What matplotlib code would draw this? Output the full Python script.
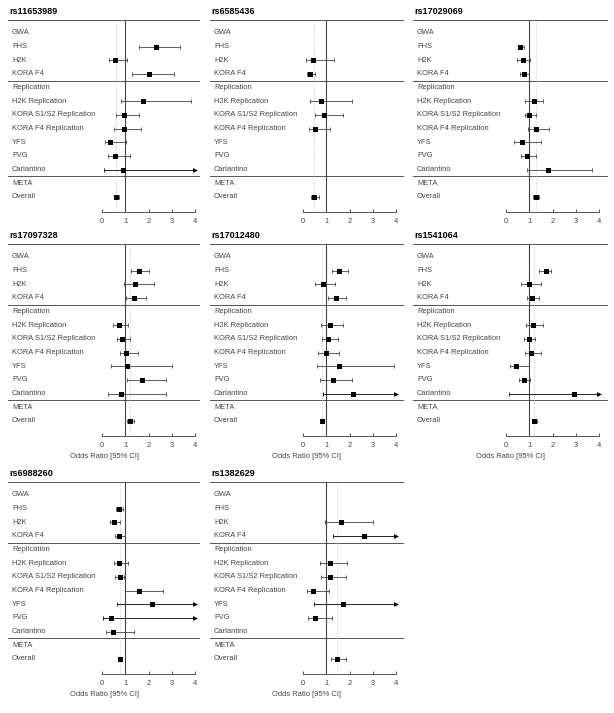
import matplotlib
matplotlib.use("Agg")
import matplotlib.pyplot as plt

plt.rcParams['font.family'] = ['Liberation Sans', 'DejaVu Sans']

### row layout of every panel ###
labels = ["GWA", "FHS", "H2K", "KORA F4", "Replication", "H2K Replication",
          "KORA S1/S2 Replication", "KORA F4 Replication", "YFS", "FVG",
          "Carlantino", "META", "Overall"]
studies = ["FHS", "H2K", "KORA F4", "H2K Replication", "KORA S1/S2 Replication",
           "KORA F4 Replication", "YFS", "FVG", "Carlantino", "Overall"]
ticks = [0, 1, 2, 3, 4]

### odds ratio, lower and upper 95% CI per study (None = not available) ###
rs11653989 = [(2.33, 1.57, 3.36), (0.57, 0.29, 1.07), (2.04, 1.30, 3.10),
              (1.76, 0.81, 3.81), (0.96, 0.59, 1.57), (0.93, 0.53, 1.69),
              (0.33, 0.11, 1.04), (0.54, 0.26, 1.19), (0.90, 0.10, 4.60),
              (0.61, 0.50, 0.74)]
rs6585436 = [None, (0.43, 0.14, 1.33), (0.30, 0.19, 0.50),
             (0.76, 0.29, 2.11), (0.91, 0.51, 1.71), (0.51, 0.26, 1.16),
             None, None, None,
             (0.49, 0.34, 0.69)]
rs17029069 = [(0.61, 0.51, 0.79), (0.73, 0.47, 1.04), (0.76, 0.59, 0.97),
              (1.19, 0.83, 1.57), (1.01, 0.80, 1.30), (1.30, 0.94, 1.83),
              (0.70, 0.33, 1.51), (0.90, 0.64, 1.30), (1.80, 0.90, 3.69),
              (1.27, 1.16, 1.41)]
rs17097328 = [(1.60, 1.24, 2.03), (1.44, 0.96, 2.24), (1.39, 1.04, 1.89),
              (0.73, 0.47, 1.10), (0.87, 0.64, 1.19), (1.03, 0.76, 1.54),
              (1.06, 0.39, 3.00), (1.73, 1.07, 2.74), (0.83, 0.24, 2.74),
              (1.21, 1.07, 1.36)]
rs17012480 = [(1.56, 1.26, 1.93), (0.87, 0.51, 1.36), (1.40, 1.07, 1.86),
              (1.14, 0.79, 1.70), (1.09, 0.80, 1.50), (0.99, 0.64, 1.54),
              (1.53, 0.61, 3.90), (1.27, 0.74, 2.11), (2.16, 0.86, 5.40),
              (0.81, 0.73, 0.90)]
rs1541064 = [(1.70, 1.40, 1.93), (1.00, 0.66, 1.51), (1.13, 0.90, 1.44),
             (1.14, 0.86, 1.57), (0.97, 0.76, 1.23), (1.09, 0.80, 1.51),
             (0.41, 0.19, 0.97), (0.76, 0.54, 1.04), (2.91, 0.14, 6.00),
             (1.21, 1.10, 1.34)]
rs6988260 = [(0.74, 0.59, 0.90), (0.51, 0.36, 0.76), (0.74, 0.57, 0.97),
             (0.74, 0.53, 1.10), (0.77, 0.57, 0.96), (1.61, 0.99, 2.61),
             (2.13, 0.64, 7.00), (0.40, 0.03, 5.00), (0.46, 0.19, 1.39),
             (0.76, 0.69, 0.84)]
rs1382629 = [None, (1.64, 0.93, 3.00), (2.61, 1.29, 5.30),
             (1.16, 0.71, 1.90), (1.16, 0.76, 1.86), (0.41, 0.19, 1.11),
             (1.70, 0.47, 6.00), (0.50, 0.23, 1.26), None,
             (1.47, 1.21, 1.86)]

panels = [("rs11653989", rs11653989), ("rs6585436", rs6585436),
          ("rs17029069", rs17029069), ("rs17097328", rs17097328),
          ("rs17012480", rs17012480), ("rs1541064", rs1541064),
          ("rs6988260", rs6988260), ("rs1382629", rs1382629)]

### page geometry in pixels ###
W, H = 614, 713
unit = 23.25
col_left = [8, 210, 413]
col_right = [200, 404, 608]
col_zero = [102, 303, 506]
row_top = [20, 244, 482]
row_axis = [212, 436, 674]
textcol = "#444444"
linecol = "#555555"

fig = plt.figure(figsize=(W / 100, H / 100), dpi=100)

for i, (snp, vals) in enumerate(panels):
    r, c = divmod(i, 3)
    L, R, x0 = col_left[c], col_right[c], col_zero[c]
    top, bot = row_top[r], row_axis[r]
    ax = fig.add_axes([L / W, 1 - bot / H, (R - L) / W, (bot - top) / H])
    ax.set_xlim((L - x0) / unit, (R - x0) / unit)
    ax.set_ylim(13.1, -0.95)
    for s in ["top", "right", "left"]:
        ax.spines[s].set_visible(False)
    ax.spines["bottom"].set_bounds(0, 4)
    ax.spines["bottom"].set_color(linecol)
    ax.spines["bottom"].set_linewidth(0.7)
    ax.set_yticks([])
    ax.set_xticks(ticks)
    ax.tick_params(axis="x", direction="in", length=2.5, width=0.7,
                   color=linecol, labelsize=5.4, labelcolor=textcol, pad=4)
    if r > 0:
        ax.set_xlabel("Odds Ratio [95% CI]", fontsize=5.4, color=textcol,
                      labelpad=3)

    # frame lines and reference lines
    for yy in [-0.95, 3.5, 10.5]:
        ax.axhline(yy, color=linecol, lw=0.7)
    ax.axvline(1, color="#444444", lw=0.8)
    ax.axvline(vals[-1][0], color="#bbbbbb", lw=0.6, ls=":")

    for k, lab in enumerate(labels):
        ax.text((L + 4 - x0) / unit, k, lab, fontsize=5.4, color=textcol,
                va="center", ha="left")

    rows = [k for k, lab in enumerate(labels) if lab in studies]
    for yk, v in zip(rows, vals):
        if v is None:
            continue
        est, lo, hi = v
        if hi > 4:
            ax.plot([lo, 4], [yk, yk], color="black", lw=0.6)
            ax.plot([4], [yk], marker=">", color="black", ms=3.5, mew=0)
            ax.plot([lo], [yk], marker="|", color="black", ms=2.5, mew=0.6)
        else:
            ax.errorbar([est], [yk], xerr=[[est - lo], [hi - est]], fmt="none",
                        ecolor="#444444", elinewidth=0.6, capsize=1.3,
                        capthick=0.6)
        ax.plot([est], [yk], marker="s", color="black", ms=3.6, mew=0)

    fig.text((L + 1) / W, 1 - (top - 8) / H, snp, fontsize=6.5,
             fontweight="bold", color="black", va="center", ha="left")

fig.savefig("out.png", dpi=100)
